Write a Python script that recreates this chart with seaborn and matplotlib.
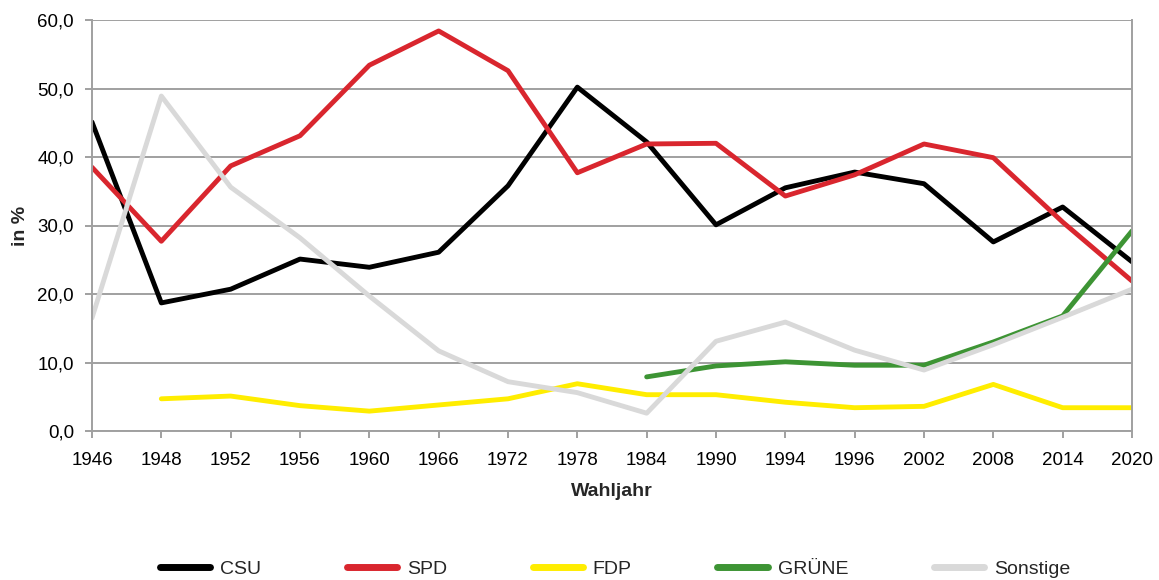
import numpy as np
import pandas as pd
import matplotlib
matplotlib.use("Agg")
import matplotlib.pyplot as plt
import seaborn as sns
from matplotlib.ticker import FuncFormatter

years = ["1946", "1948", "1952", "1956", "1960", "1966", "1972", "1978",
         "1984", "1990", "1994", "1996", "2002", "2008", "2014", "2020"]
csu = [45.1, 18.7, 20.7, 25.1, 23.9, 26.1, 35.8, 50.2, 42.2, 30.1, 35.5, 37.8, 36.1, 27.6, 32.7, 24.7]
spd = [38.5, 27.7, 38.7, 43.1, 53.4, 58.4, 52.6, 37.7, 41.9, 42.0, 34.3, 37.4, 41.9, 39.9, 30.5, 21.9]
fdp = [np.nan, 4.7, 5.1, 3.7, 2.9, 3.8, 4.7, 6.9, 5.3, 5.3, 4.2, 3.4, 3.6, 6.8, 3.4, 3.4]
gruene = [np.nan] * 8 + [7.9, 9.5, 10.1, 9.6, 9.6, 13.0, 16.8, 29.2]
sonstige = [16.5, 48.9, 35.6, 28.2, 19.7, 11.7, 7.2, 5.6, 2.6, 13.1, 15.9, 11.8, 8.9, 12.6, 16.6, 20.7]

parties = ["CSU", "SPD", "FDP", "GRÜNE", "Sonstige"]
colors = {"CSU": "#000000", "SPD": "#d9262e", "FDP": "#ffed00",
          "GRÜNE": "#3d9434", "Sonstige": "#d9d9d9"}

series = {"CSU": csu, "SPD": spd, "FDP": fdp, "GRÜNE": gruene, "Sonstige": sonstige}
rows = []
for p in parties:
    for i, (y, v) in enumerate(zip(years, series[p])):
        rows.append({"pos": i, "Jahr": y, "Partei": p, "Wert": v})
df = pd.DataFrame(rows).dropna()

sns.set_theme(style="white")
plt.rcParams["font.family"] = ["Liberation Sans", "DejaVu Sans"]

fig = plt.figure(figsize=(11.59, 5.80), dpi=100)
ax = fig.add_axes([92 / 1159, 1 - 431 / 580, (1132 - 92) / 1159, (431 - 20) / 580])

sns.lineplot(data=df, x="pos", y="Wert", hue="Partei", hue_order=parties,
             palette=colors, linewidth=3.5, sort=True, ax=ax, legend=True)

ax.set_xlim(0, len(years) - 1)
ax.set_ylim(0, 60)
ax.set_xticks(range(len(years)))
ax.set_xticklabels(years)
ax.set_yticks(np.arange(0, 61, 10))
ax.yaxis.set_major_formatter(FuncFormatter(lambda v, _: f"{v:.1f}".replace(".", ",")))
ax.grid(axis="y", color="#a0a0a0", linewidth=1.4)
ax.grid(axis="x", visible=False)
ax.set_axisbelow(True)
for s in ["left", "bottom", "right"]:
    ax.spines[s].set_color("#a0a0a0")
    ax.spines[s].set_linewidth(1.4)
ax.spines["top"].set_visible(False)
ax.tick_params(axis="x", which="major", length=5, width=1.4, color="#a0a0a0",
               labelsize=13.5, labelcolor="#000000", direction="out", pad=10, bottom=True)
ax.tick_params(axis="y", which="major", length=5, width=1.4, color="#a0a0a0",
               labelsize=13.5, labelcolor="#000000", direction="out", pad=8, left=True)
ax.set_xlabel("Wahljahr", fontsize=14, fontweight="bold", labelpad=10)
ax.set_ylabel("in %", fontsize=14, fontweight="bold", labelpad=6)

handles, labels = ax.get_legend_handles_labels()
ax.legend_.remove()
leg = fig.legend(handles, labels, loc="center", bbox_to_anchor=(615 / 1159, 1 - 569 / 580),
                 ncol=5, frameon=False, fontsize=14, handlelength=2.6,
                 columnspacing=4.4, handletextpad=0.5, borderpad=0, borderaxespad=0)
for h in leg.get_lines():
    h.set_linewidth(5.0)

fig.savefig("out.png", dpi=100)
